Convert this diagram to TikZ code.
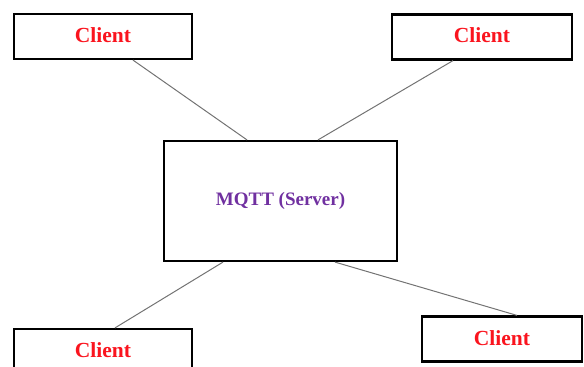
\documentclass[tikz,border=0pt]{standalone}
\usepackage{fontspec}
\setmainfont{Liberation Serif}
\usetikzlibrary{positioning}
\definecolor{clientred}{RGB}{250,20,30}
\definecolor{serverpurple}{RGB}{112,48,160}

\begin{document}
\begin{tikzpicture}[
  x=1pt, y=-1pt,
  client/.style={draw, line width=2.2pt, minimum width=178pt, minimum height=45pt,
                 inner sep=0pt, font=\fontsize{21.5}{24}\selectfont\bfseries,
                 text=clientred},
  server/.style={draw, line width=2.2pt, minimum width=233pt, minimum height=120pt,
                 inner sep=0pt, font=\fontsize{19}{22}\selectfont\bfseries,
                 text=serverpurple},
  link/.style={line width=1pt, black!55},
]
  \useasboundingbox (0,0) rectangle (584,367);

  % server in the middle
  \node[server] (server) at (280.5,201) {\raisebox{3pt}{MQTT (Server)}};

  % the four clients
  \node[client] (clienttl) at (103,36.5) {\raisebox{3pt}{Client}};
  \node[client, minimum width=180pt] (clienttr) at (482,37) {\raisebox{3pt}{Client}};
  \node[client] (clientbl) at (103,351.5) {\raisebox{3pt}{Client}};
  \node[client, minimum width=160pt] (clientbr) at (502,339) {\raisebox{2pt}{Client}};

  % links to the server
  \draw[link] ([xshift=30pt]clienttl.south) -- ([xshift=-33.5pt]server.north);
  \draw[link] ([xshift=-29pt]clienttr.south) -- ([xshift=37.5pt]server.north);
  \draw[link] ([xshift=-57.5pt]server.south) -- ([xshift=12pt]clientbl.north);
  \draw[link] ([xshift=54.5pt]server.south) -- ([xshift=15pt]clientbr.north);
\end{tikzpicture}
\end{document}
